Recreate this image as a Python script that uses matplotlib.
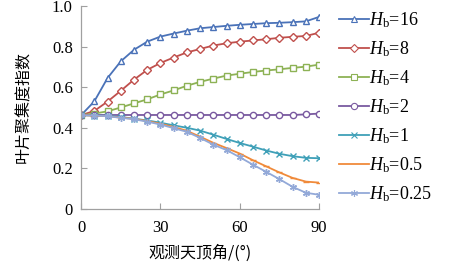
import matplotlib
matplotlib.use("Agg")
import matplotlib.pyplot as plt
from matplotlib.lines import Line2D
from matplotlib import font_manager

plt.rcParams['font.family'] = ['Liberation Serif', 'Noto Sans CJK SC', 'DejaVu Sans']
plt.rcParams['mathtext.fontset'] = 'custom'
plt.rcParams['mathtext.rm'] = 'Liberation Serif'
plt.rcParams['mathtext.it'] = 'Liberation Serif:italic'

angles = [0, 5, 10, 15, 20, 25, 30, 35, 40, 45, 50, 55, 60, 65, 70, 75, 80, 85, 90]

hb16 = [0.462, 0.530, 0.645, 0.727, 0.784, 0.824, 0.849, 0.864, 0.878, 0.890, 0.896, 0.902, 0.907, 0.911, 0.915, 0.917, 0.920, 0.924, 0.946]
hb8 = [0.462, 0.483, 0.529, 0.582, 0.637, 0.685, 0.719, 0.746, 0.771, 0.788, 0.805, 0.816, 0.824, 0.830, 0.836, 0.843, 0.848, 0.852, 0.868]
hb4 = [0.462, 0.470, 0.481, 0.500, 0.520, 0.540, 0.564, 0.584, 0.607, 0.626, 0.642, 0.657, 0.666, 0.675, 0.682, 0.688, 0.695, 0.701, 0.711]
hb2 = [0.463, 0.463, 0.463, 0.463, 0.463, 0.463, 0.463, 0.463, 0.463, 0.463, 0.463, 0.463, 0.463, 0.463, 0.463, 0.463, 0.463, 0.466, 0.470]
hb1 = [0.462, 0.460, 0.459, 0.453, 0.445, 0.436, 0.425, 0.412, 0.400, 0.386, 0.366, 0.345, 0.325, 0.307, 0.288, 0.272, 0.260, 0.252, 0.250]
hb05 = [0.462, 0.460, 0.457, 0.450, 0.444, 0.433, 0.420, 0.404, 0.385, 0.356, 0.326, 0.300, 0.273, 0.240, 0.210, 0.180, 0.153, 0.135, 0.130]
hb025 = [0.462, 0.460, 0.457, 0.449, 0.442, 0.430, 0.416, 0.398, 0.380, 0.350, 0.317, 0.290, 0.255, 0.218, 0.183, 0.147, 0.109, 0.080, 0.070]

labels = ['16', '8', '4', '2', '1', '0.5', '0.25']
series = [hb16, hb8, hb4, hb2, hb1, hb05, hb025]
colors = ['#4A72B8', '#C0504D', '#8DB255', '#7A5AA0', '#3FA0B8', '#F08A3A', '#93A9D8']
markers = ['^', 'D', 's', 'o', 'x', '_', (6, 2, 0)]
msizes = [4.5, 3.8, 4.5, 4.5, 4.5, 5, 5]

serif = font_manager.FontProperties(family='Liberation Serif', size=12)

fig = plt.figure(figsize=(4.77, 2.69), dpi=100)
ax = fig.add_axes([0.170, 0.223, 0.499, 0.755])

handles = []
for vals, lab, c, m, ms in zip(series, labels, colors, markers, msizes):
    filled = m in ('x', '_') or isinstance(m, tuple)
    ax.plot(angles, vals, color=c, lw=1.3, marker=m, ms=ms,
            mfc=c if filled else 'white', mec=c, mew=1.0)
    handles.append(Line2D([], [], color=c, lw=1.3, marker=None if m == '_' else m, ms=ms,
                          mfc=c if filled else 'white', mec=c, mew=0.8))

ax.set_xlim(0, 90)
ax.set_ylim(0, 1.0)
ax.set_xticks([0, 30, 60, 90])
ax.set_yticks([0, 0.2, 0.4, 0.6, 0.8, 1.0])
ax.set_yticklabels(['0', '0.2', '0.4', '0.6', '0.8', '1.0'])
ax.tick_params(direction='in', length=4, color='#A0A0A0', width=0.8)
ax.tick_params(axis='x', pad=8)
ax.tick_params(axis='y', pad=6)
for t in ax.get_xticklabels() + ax.get_yticklabels():
    t.set_fontproperties(serif)
for s in ['top', 'right']:
    ax.spines[s].set_visible(False)
for s in ['left', 'bottom']:
    ax.spines[s].set_color('#A0A0A0')
    ax.spines[s].set_linewidth(0.9)

ax.set_xlabel('观测天顶角/(°)', fontsize=11.5, family=['Noto Sans CJK SC', 'DejaVu Sans'], labelpad=6)
ax.set_ylabel('叶片聚集度指数', fontsize=11.5, family=['Noto Sans CJK SC', 'DejaVu Sans'], labelpad=14)

leg_labels = [r'$H_{\mathrm{b}}$=' + l for l in labels]
fig.legend(handles, leg_labels, loc='upper left', bbox_to_anchor=(0.695, 0.99),
           frameon=False, prop=font_manager.FontProperties(family='Liberation Serif', size=13),
           handlelength=1.7, handletextpad=0.0,
           labelspacing=0.52, borderaxespad=0)

fig.savefig('out.png', dpi=100)
